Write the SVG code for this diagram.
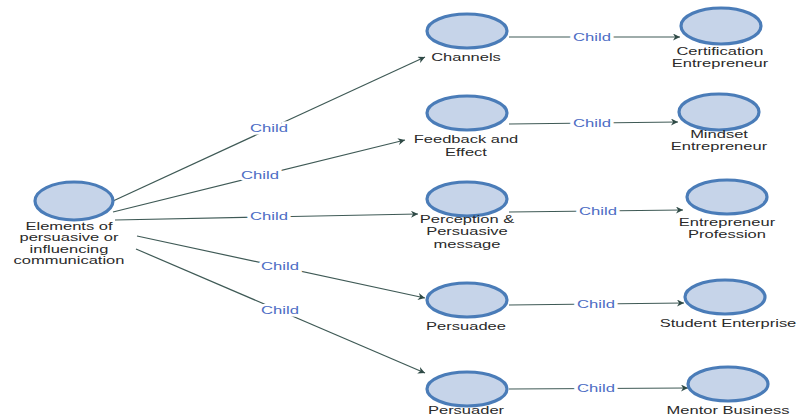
<svg xmlns="http://www.w3.org/2000/svg" width="798" height="418" viewBox="0 0 798 418">
<style>
.n{fill:#c6d4e9;stroke:#4a7cb8;stroke-width:3.2}
.t{font-family:"Liberation Sans",Arial,sans-serif;font-size:11px;fill:#2a2a2a;text-anchor:middle}
.r{font-size:10px}
.e{stroke:#3f5a56;stroke-width:1.2;fill:none;marker-end:url(#a)}
.l{font-family:"Liberation Sans",Arial,sans-serif;font-size:11.5px;fill:#4d6cc4;text-anchor:middle;dominant-baseline:central;stroke:#fff;stroke-width:5;paint-order:stroke}
</style>
<defs>
<marker id="a" viewBox="0 0 10 10" refX="10" refY="5" markerWidth="10" markerHeight="7" orient="auto" markerUnits="userSpaceOnUse">
<path d="M0,0 L10,5 L0,10 L3,5 z" fill="#2f4a46"/>
</marker>
</defs>
<rect width="798" height="418" fill="#fff"/>
<g id="edges">
<path class="e" d="M113,201 L425,57"/>
<path class="e" d="M113,212 L405,140"/>
<path class="e" d="M115,220 L418,214"/>
<path class="e" d="M137,236 L425,298"/>
<path class="e" d="M136,249 L425,373"/>
<path class="e" d="M509,37 L680,37"/>
<path class="e" d="M509,124 L678,122"/>
<path class="e" d="M509,212 L683,210"/>
<path class="e" d="M509,305 L684,303"/>
<path class="e" d="M509,389 L688,388"/>
<text class="l" transform="translate(269,128) scale(1.45,1)">Child</text>
<text class="l" transform="translate(260,175) scale(1.45,1)">Child</text>
<text class="l" transform="translate(269,216) scale(1.45,1)">Child</text>
<text class="l" transform="translate(280,266) scale(1.45,1)">Child</text>
<text class="l" transform="translate(280,310) scale(1.45,1)">Child</text>
<text class="l" transform="translate(592,37) scale(1.45,1)">Child</text>
<text class="l" transform="translate(592,123) scale(1.45,1)">Child</text>
<text class="l" transform="translate(598,211) scale(1.45,1)">Child</text>
<text class="l" transform="translate(596,304) scale(1.45,1)">Child</text>
<text class="l" transform="translate(596,388) scale(1.45,1)">Child</text>
</g>
<g id="root">
<ellipse class="n" cx="74" cy="201" rx="39" ry="19"/>
<text class="t r" transform="translate(69,229.5) scale(1.65,1)">Elements of</text>
<text class="t r" transform="translate(69,241) scale(1.65,1)">persuasive or</text>
<text class="t r" transform="translate(69,252.5) scale(1.65,1)">influencing</text>
<text class="t r" transform="translate(69,264) scale(1.65,1)">communication</text>
</g>
<g id="channels">
<ellipse class="n" cx="467" cy="31" rx="40" ry="17"/>
<text class="t" transform="translate(466,61) scale(1.5,1)">Channels</text>
</g>
<g id="feedback">
<ellipse class="n" cx="467" cy="113" rx="40" ry="17"/>
<text class="t" transform="translate(466,143) scale(1.5,1)">Feedback and</text>
<text class="t" transform="translate(466,155.5) scale(1.5,1)">Effect</text>
</g>
<g id="perception">
<ellipse class="n" cx="467" cy="199" rx="40" ry="17"/>
<text class="t" transform="translate(467,222.5) scale(1.5,1)">Perception &amp;</text>
<text class="t" transform="translate(467,235) scale(1.5,1)">Persuasive</text>
<text class="t" transform="translate(467,247.5) scale(1.5,1)">message</text>
</g>
<g id="persuadee">
<ellipse class="n" cx="467" cy="300" rx="40" ry="17"/>
<text class="t" transform="translate(466,330) scale(1.5,1)">Persuadee</text>
</g>
<g id="persuader">
<ellipse class="n" cx="467" cy="389" rx="40" ry="17"/>
<text class="t" transform="translate(466,414) scale(1.5,1)">Persuader</text>
</g>
<g id="certification">
<ellipse class="n" cx="721" cy="26" rx="40" ry="18"/>
<text class="t" transform="translate(720,54.5) scale(1.5,1)">Certification</text>
<text class="t" transform="translate(720,67) scale(1.5,1)">Entrepreneur</text>
</g>
<g id="mindset">
<ellipse class="n" cx="719" cy="112" rx="40" ry="18"/>
<text class="t" transform="translate(719,137.5) scale(1.5,1)">Mindset</text>
<text class="t" transform="translate(719,150) scale(1.5,1)">Entrepreneur</text>
</g>
<g id="profession">
<ellipse class="n" cx="727" cy="197" rx="40" ry="17"/>
<text class="t" transform="translate(727,225.5) scale(1.5,1)">Entrepreneur</text>
<text class="t" transform="translate(727,238) scale(1.5,1)">Profession</text>
</g>
<g id="student">
<ellipse class="n" cx="725" cy="297" rx="40" ry="17"/>
<text class="t" transform="translate(728,327) scale(1.5,1)">Student Enterprise</text>
</g>
<g id="mentor">
<ellipse class="n" cx="728" cy="384" rx="40" ry="17"/>
<text class="t" transform="translate(728,414) scale(1.5,1)">Mentor Business</text>
</g>
</svg>
